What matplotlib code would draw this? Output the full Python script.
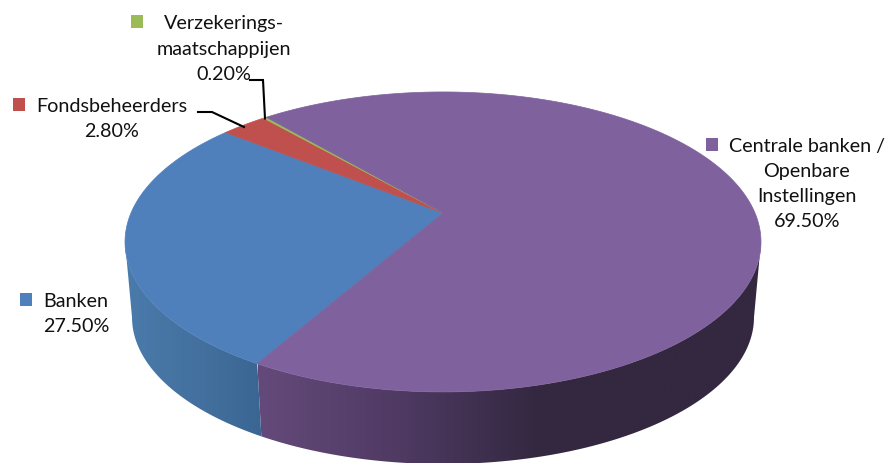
import numpy as np
import matplotlib
matplotlib.use("Agg")
import matplotlib.pyplot as plt
from matplotlib.colors import LinearSegmentedColormap
from matplotlib.patches import Polygon, Rectangle

# Investor shares, in percent, clockwise from the Banken slice
categories = ["Banken", "Fondsbeheerders", "Verzekerings-\nmaatschappijen",
              "Centrale banken /\nOpenbare\nInstellingen"]
shares = [27.5, 2.8, 0.2, 69.5]
top_colors = ["#4f80bc", "#c0504d", "#9bbb59", "#7f619d"]

W, H = 886, 463
fig = plt.figure(figsize=(W / 100, H / 100), dpi=100)
ax = fig.add_axes([0, 0, 1, 1])
plt.rcParams["font.family"] = ["Lato", "DejaVu Sans"]

# Perspective view of a flat disc
CX, CY = 443.0, 213.0
A, B, K = 312.0, 144.4, 0.193
DEPTH_Y, DEPTH_SCALE = 76.0, 0.978
START = 119.7
SILHOUETTE = np.degrees(np.arcsin(K))


def rim(phi_deg, lower=False):
    phi = np.radians(np.asarray(phi_deg, dtype=float))
    u, v = np.cos(phi), np.sin(phi)
    d = 1 - K * v
    x, y = A * u / d, B * v / d
    if lower:
        return np.column_stack((CX + DEPTH_SCALE * x, CY + DEPTH_Y + DEPTH_SCALE * y))
    return np.column_stack((CX + x, CY + y))


def side_wall(phi0, phi1, cmap, x0, x1):
    # Horizontal colour ramp clipped to the outline of the rim section
    edges = np.linspace(phi0, phi1, 200)
    outline = np.vstack((rim(edges), rim(edges[::-1], lower=True)))
    shape = Polygon(outline, closed=True, facecolor="none", edgecolor="none",
                    transform=ax.transData)
    ax.add_patch(shape)
    ramp = np.linspace(0, 1, 1024)[None, :]
    image = ax.imshow(ramp, cmap=cmap, extent=(x0, x1, H, 0), aspect="auto",
                      interpolation="bilinear", zorder=1)
    image.set_clip_path(shape)


# Only the front of the rim is visible: Centrale banken and Banken
purple_side = LinearSegmentedColormap.from_list(
    "purple_side", [(0.0, "#644a7a"), (0.26, "#4f3a63"), (0.52, "#332840"), (1.0, "#332840")])
blue_side = LinearSegmentedColormap.from_list(
    "blue_side", ["#4a7bab", "#44719f", "#3b6694"])
side_wall(SILHOUETTE, START, purple_side, 258, 800)
side_wall(START, 180 - SILHOUETTE, blue_side, 125, 262)

# Top surface slices
angle = START
for share, color in zip(shares, top_colors):
    sweep = share * 3.6
    arc = rim(np.linspace(angle, angle + sweep, max(int(sweep * 2), 4)))
    ax.add_patch(Polygon(np.vstack(([CX, CY], arc)), closed=True, facecolor=color,
                         edgecolor=color, linewidth=0.5, zorder=2))
    angle += sweep

# Labels with their colour keys
label_spots = [(76, 314), (112, 119), (224, 49), (807, 184)]
key_spots = [(20, 293), (13, 98), (131, 15), (706, 138)]
for name, share, color, (tx, ty), (kx, ky) in zip(categories, shares, top_colors,
                                                  label_spots, key_spots):
    ax.text(tx, ty, f"{name}\n{share:.2f}%", ha="center", va="center", fontsize=14.2,
            color="#111111", linespacing=1.58, zorder=4)
    ax.add_patch(Rectangle((kx, ky), 12.5, 12.5, facecolor=color, edgecolor="none", zorder=4))

# Leader lines for the two thin slices
ax.plot([250, 263, 265], [80, 80, 118.5], color="black", lw=1.5, zorder=5,
        solid_joinstyle="miter")
ax.plot([198, 212, 244], [112, 112, 127], color="black", lw=1.5, zorder=5,
        solid_joinstyle="miter")

ax.set_xlim(0, W)
ax.set_ylim(H, 0)
ax.axis("off")
fig.savefig("out.png", dpi=100)
